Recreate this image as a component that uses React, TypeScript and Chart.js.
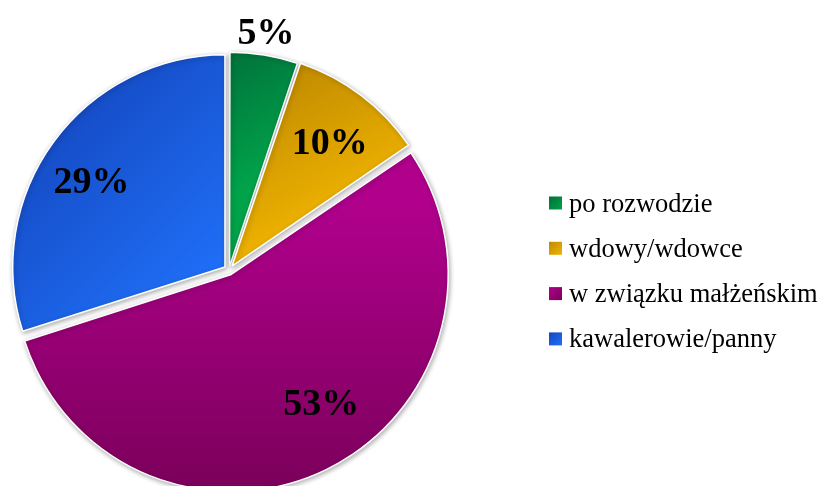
import React, { useEffect, useRef } from 'react';
import { Chart, registerables } from 'chart.js';

Chart.register(...registerables);

const categories = ['po rozwodzie', 'wdowy/wdowce', 'w związku małżeńskim', 'kawalerowie/panny'];
const values = [5, 10, 53, 29];
const valueLabels = ['5%', '10%', '53%', '29%'];
const startColors = ['#00703a', '#bf8900', '#b0008c', '#1447bf'];
const endColors = ['#00a24a', '#f0b400', '#7a005a', '#1f6ff7'];
// gradient vectors (in units of radius, relative to pie centre)
const gradVectors = [
  [0, -1, 0.3, -0.5],
  [0.3, -0.95, 0.65, -0.3],
  [0, -0.3, 0, 1],
  [-0.8, -0.8, 0, 0],
];
const labelRadius = [1.14, 0.77, 0.76, 0.775];
const labelAngleShift = [-0.5, 1, -9, -3];
// Chart.js 4 draws arcs displaced by offset / 4
const offsets = [14, 20, 20, 20];

const SERIF = "'Liberation Serif', 'Times New Roman', serif";

function makeGradient(chart: any, i: number) {
  const area = chart.chartArea;
  if (!area) return startColors[i];
  const cx = (area.left + area.right) / 2;
  const cy = (area.top + area.bottom) / 2;
  const r = Math.min(area.right - area.left, area.bottom - area.top) / 2;
  const v = gradVectors[i];
  const g = chart.ctx.createLinearGradient(cx + v[0] * r, cy + v[1] * r, cx + v[2] * r, cy + v[3] * r);
  g.addColorStop(0, startColors[i]);
  g.addColorStop(1, endColors[i]);
  return g;
}

const shadowPlugin = {
  id: 'sliceShadow',
  beforeDatasetsDraw(chart: any) {
    const ctx = chart.ctx;
    ctx.save();
    ctx.shadowColor = 'rgba(0,0,0,0.32)';
    ctx.shadowBlur = 5;
    ctx.shadowOffsetX = 1;
    ctx.shadowOffsetY = 1.5;
  },
  afterDatasetsDraw(chart: any) {
    chart.ctx.restore();
  },
};

const labelPlugin = {
  id: 'sliceLabels',
  afterDatasetsDraw(chart: any) {
    const ctx = chart.ctx;
    const meta = chart.getDatasetMeta(0);
    const size = 38;
    ctx.save();
    ctx.font = `bold ${size}px ${SERIF}`;
    ctx.fillStyle = '#000000';
    ctx.textAlign = 'center';
    ctx.textBaseline = 'alphabetic';
    meta.data.forEach((el: any, i: number) => {
      const p = el.getProps(['x', 'y', 'startAngle', 'endAngle', 'outerRadius'], true);
      const mid = (p.startAngle + p.endAngle) / 2 + (labelAngleShift[i] * Math.PI) / 180;
      const rr = p.outerRadius * labelRadius[i];
      ctx.fillText(valueLabels[i], p.x + Math.cos(mid) * rr, p.y + Math.sin(mid) * rr + size * 0.34);
    });
    ctx.restore();
  },
};

const legendPlugin = {
  id: 'customLegend',
  afterDraw(chart: any) {
    const ctx = chart.ctx;
    const x0 = 549;
    const y0 = 203;
    const step = 45.3;
    const box = 13;
    ctx.save();
    ctx.font = `26.5px ${SERIF}`;
    ctx.fillStyle = '#000000';
    ctx.textAlign = 'left';
    ctx.textBaseline = 'alphabetic';
    categories.forEach((label, i) => {
      const cy = y0 + i * step;
      const g = ctx.createLinearGradient(x0, cy - box / 2, x0 + box, cy + box / 2);
      g.addColorStop(0, startColors[i]);
      g.addColorStop(1, endColors[i]);
      ctx.fillStyle = g;
      ctx.fillRect(x0, cy - box / 2, box, box);
      ctx.fillStyle = '#000000';
      ctx.fillText(label, x0 + 20, cy + 8.5);
    });
    ctx.restore();
  },
};

export default function App() {
  const ref = useRef<HTMLCanvasElement | null>(null);
  useEffect(() => {
    if (!ref.current) return;
    const chart = new Chart(ref.current, {
      type: 'pie',
      data: {
        labels: categories,
        datasets: [
          {
            data: values,
            backgroundColor: (c: any) => makeGradient(c.chart, c.dataIndex),
            borderColor: '#ffffff',
            borderWidth: 1.5,
            offset: offsets,
            hoverOffset: 0,
          },
        ],
      },
      options: {
        animation: false,
        responsive: false,
        maintainAspectRatio: false,
        events: [],
        layout: { padding: { left: 6.25, top: 46.25, right: 377.25, bottom: 16.25 } },
        plugins: {
          legend: { display: false },
          tooltip: { enabled: false },
        },
      },
      plugins: [shadowPlugin, labelPlugin, legendPlugin],
    });
    return () => chart.destroy();
  }, []);
  return (
    <div style={{ position: 'fixed', left: 0, top: 0, width: 829, height: 486, overflow: 'hidden', background: '#ffffff' }}>
      <canvas ref={ref} width={829} height={510} style={{ display: 'block' }} />
    </div>
  );
}
